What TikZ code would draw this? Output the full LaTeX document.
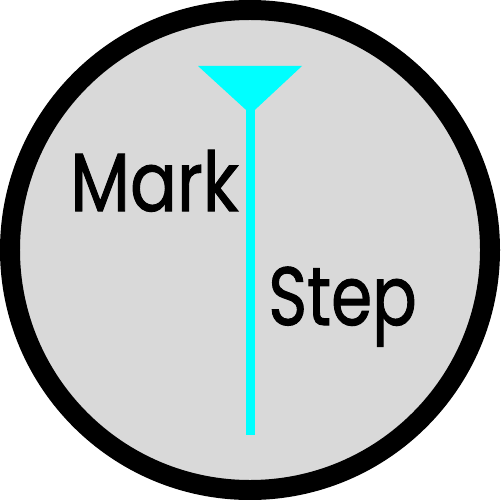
\documentclass[tikz,border=0pt]{standalone}
\usepackage{fontspec}
\usetikzlibrary{positioning}
\newfontfamily\logofont[FakeBold=1.3]{Poppins}
\definecolor{dialGray}{HTML}{D9D9D9}
\definecolor{markCyan}{HTML}{00FFFF}
\newcommand{\logoword}[2][0.86]{\scalebox{#1}[1]{#2}}
\tikzset{
    dial/.style={draw=black,fill=dialGray,line width=0.4cm},
    logotext/.style={font=\logofont\fontsize{47}{47}\selectfont,text=black,
        inner sep=0pt,anchor=base west},
    needle/.style={draw=markCyan,line width=0.18cm},
    funnel/.style={fill=markCyan}
}
\begin{document}
\begin{tikzpicture}[x=0.02cm,y=-0.02cm]
    \useasboundingbox (0,0) rectangle (500,500);
    % dial face
    \draw[dial] (250,250) circle (240);

    % needle and funnel head
    \coordinate (needle_top) at (250.5,108);
    \coordinate (needle_end) at (250.5,435);
    \draw[needle] (needle_top) -- (needle_end);
    \fill[funnel] (198,66) -- (302,66) -- (250.5,114) -- cycle;

    \node[logotext] (mark) at (70,211) {\logoword[0.84]{Mark}};
    \node[logotext] (step) at (268,325) {\logoword[0.8]{Step}};
\end{tikzpicture}
\end{document}
